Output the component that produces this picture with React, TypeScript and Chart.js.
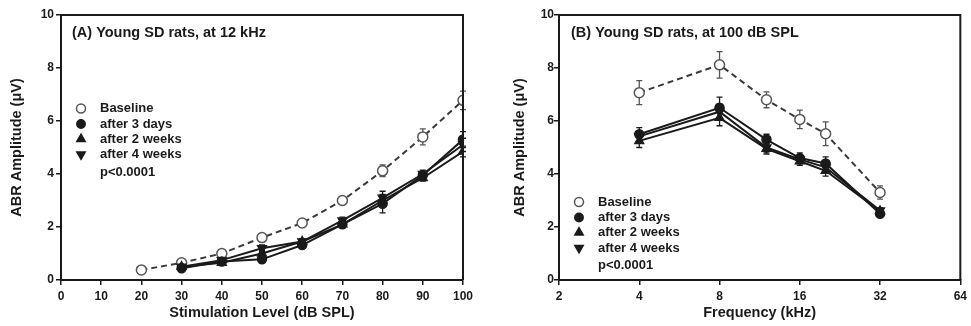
import React, { useEffect, useRef } from "react";
import { Chart, registerables } from "chart.js";
Chart.register(...registerables);

// ---------- Panel A data ----------
const levelsBaseline = [20, 30, 40, 50, 60, 70, 80, 90, 100];
const levelsTreated = [30, 40, 50, 60, 70, 80, 90, 100];
const levelBaseline = [0.38, 0.65, 1.0, 1.6, 2.15, 3.0, 4.12, 5.4, 6.78];
const levelBaselineErr = [0.06, 0.08, 0.1, 0.12, 0.12, 0.15, 0.22, 0.3, 0.35];
const level3Days = [0.44, 0.7, 0.78, 1.32, 2.1, 2.88, 3.95, 5.3];
const level3DaysErr = [0.06, 0.08, 0.1, 0.1, 0.12, 0.35, 0.15, 0.3];
const level2Weeks = [0.5, 0.65, 1.0, 1.45, 2.1, 3.0, 3.85, 4.85];
const level2WeeksErr = [0.06, 0.08, 0.12, 0.1, 0.12, 0.2, 0.12, 0.2];
const level4Weeks = [0.5, 0.75, 1.2, 1.45, 2.25, 3.1, 4.0, 5.1];
const level4WeeksErr = [0.06, 0.08, 0.12, 0.1, 0.12, 0.25, 0.15, 0.25];
const levelTicks = [0, 10, 20, 30, 40, 50, 60, 70, 80, 90, 100];

// ---------- Panel B data ----------
const freqs = [4, 8, 12, 16, 20, 32];
const freqBaseline = [7.07, 8.12, 6.8, 6.06, 5.52, 3.3];
const freqBaselineErr = [0.45, 0.5, 0.3, 0.35, 0.45, 0.25];
const freq3Days = [5.5, 6.5, 5.3, 4.6, 4.4, 2.5];
const freq3DaysErr = [0.25, 0.4, 0.2, 0.2, 0.25, 0.1];
const freq2Weeks = [5.25, 6.12, 4.95, 4.48, 4.12, 2.6];
const freq2WeeksErr = [0.25, 0.3, 0.2, 0.15, 0.2, 0.1];
const freq4Weeks = [5.42, 6.35, 5.0, 4.55, 4.25, 2.62];
const freq4WeeksErr = [0.2, 0.3, 0.2, 0.15, 0.2, 0.1];
const freqTicks = [2, 4, 8, 16, 32, 64];

const yTicks = [0, 2, 4, 6, 8, 10];
const legendLabels = ["Baseline", "after 3 days", "after 2 weeks", "after 4 weeks"];
const pValue = "p<0.0001";

const FONT = "'Liberation Sans', Arial, sans-serif";
const INK = "#1a1a1a";
const GRAY = "#3a3a3a";

const zip = (xs: number[], ys: number[]) => xs.map((x, i) => ({ x, y: ys[i] }));

function makeDatasets(xb: number[], xt: number[], b: number[], be: number[], d3: number[], e3: number[], w2: number[], e2: number[], w4: number[], e4: number[]) {
  const common = { borderWidth: 2, pointBorderWidth: 1.5, tension: 0 };
  return [
    { ...common, label: legendLabels[3], data: zip(xt, w4), errors: e4, borderColor: INK, backgroundColor: INK, pointStyle: "triangle", pointRotation: 180, pointRadius: 5 },
    { ...common, label: legendLabels[2], data: zip(xt, w2), errors: e2, borderColor: INK, backgroundColor: INK, pointStyle: "triangle", pointRadius: 5 },
    { ...common, label: legendLabels[1], data: zip(xt, d3), errors: e3, borderColor: INK, backgroundColor: INK, pointStyle: "circle", pointRadius: 4.5 },
    { ...common, label: legendLabels[0], data: zip(xb, b), errors: be, borderColor: GRAY, backgroundColor: "#fff", borderDash: [6, 4], pointStyle: "circle", pointRadius: 5, pointBorderColor: "#555" },
  ];
}

function drawMarker(ctx: CanvasRenderingContext2D, kind: number, x: number, y: number) {
  ctx.save();
  ctx.lineWidth = 1.5;
  ctx.strokeStyle = kind === 0 ? "#555" : INK;
  ctx.fillStyle = kind === 0 ? "#fff" : INK;
  ctx.beginPath();
  if (kind === 0 || kind === 1) {
    ctx.arc(x, y, kind === 0 ? 4.5 : 4.2, 0, Math.PI * 2);
  } else {
    const r = 4.8;
    const s = kind === 2 ? 1 : -1;
    ctx.moveTo(x, y - s * r);
    ctx.lineTo(x + r * 0.87, y + s * r * 0.5);
    ctx.lineTo(x - r * 0.87, y + s * r * 0.5);
    ctx.closePath();
  }
  ctx.fill();
  ctx.stroke();
  ctx.restore();
}

const panelPlugin = {
  id: "panelDeco",
  beforeDatasetsDraw(chart: any) {
    const ctx = chart.ctx;
    const ys = chart.scales.y;
    ctx.save();
    chart.data.datasets.forEach((ds: any, i: number) => {
      const meta = chart.getDatasetMeta(i);
      ctx.strokeStyle = i === 3 ? "#555" : INK;
      ctx.lineWidth = 1.3;
      meta.data.forEach((el: any, j: number) => {
        const v = ds.data[j].y;
        const e = ds.errors[j];
        const t = ys.getPixelForValue(v + e);
        const b = ys.getPixelForValue(v - e);
        ctx.beginPath();
        ctx.moveTo(el.x, t);
        ctx.lineTo(el.x, b);
        ctx.moveTo(el.x - 3, t);
        ctx.lineTo(el.x + 3, t);
        ctx.moveTo(el.x - 3, b);
        ctx.lineTo(el.x + 3, b);
        ctx.stroke();
      });
    });
    ctx.restore();
  },
  afterDraw(chart: any) {
    const ctx = chart.ctx;
    const a = chart.chartArea;
    const o = chart.options.plugins.panelDeco;
    ctx.save();
    ctx.strokeStyle = INK;
    ctx.lineWidth = 2;
    ctx.beginPath();
    ctx.moveTo(a.left, a.top);
    ctx.lineTo(a.right, a.top);
    ctx.lineTo(a.right, a.bottom);
    ctx.stroke();
    ctx.fillStyle = INK;
    ctx.textBaseline = "middle";
    ctx.font = `bold 14.5px ${FONT}`;
    ctx.fillText(o.title, a.left + o.titleDx, a.top + 18);
    ctx.font = `bold 13px ${FONT}`;
    const rows = [0, 15.5, 30.5, 46, 63.5];
    legendLabels.forEach((lab, k) => {
      const y = a.top + o.legendDy + rows[k];
      drawMarker(ctx, k, a.left + 20, y);
      ctx.fillStyle = INK;
      ctx.fillText(lab, a.left + 39, y);
    });
    ctx.fillText(pValue, a.left + 39, a.top + o.legendDy + rows[4]);
    ctx.restore();
  },
};

function Panel(props: any) {
  const ref = useRef<HTMLCanvasElement>(null);
  useEffect(() => {
    const tickFont = { family: FONT, size: 12, weight: "bold" as const };
    const titleFont = { family: FONT, size: 14.5, weight: "bold" as const };
    const chart = new Chart(ref.current as HTMLCanvasElement, {
      type: "line",
      data: { datasets: props.datasets as any },
      plugins: [panelPlugin as any],
      options: {
        animation: false,
        responsive: false,
        layout: { padding: { top: 15, right: props.rightPad, left: 0, bottom: 0 } },
        plugins: {
          legend: { display: false },
          tooltip: { enabled: false },
          panelDeco: { title: props.title, titleDx: props.titleDx, legendDy: props.legendDy },
        } as any,
        scales: {
          x: {
            type: props.xType,
            min: props.xMin,
            max: props.xMax,
            afterBuildTicks: (s: any) => { s.ticks = props.xTicks.map((v: number) => ({ value: v })); },
            afterFit: (s: any) => { s.height = 46; },
            ticks: { color: INK, font: tickFont, padding: 4, maxRotation: 0, autoSkip: false, callback: (v: any) => String(v) },
            grid: { drawOnChartArea: false, drawTicks: true, tickLength: 5, color: INK, lineWidth: 1.5 },
            border: { display: true, color: INK, width: 2 },
            title: { display: true, text: props.xTitle, color: INK, font: titleFont, padding: { top: 0, bottom: 4.3 } },
          },
          y: {
            type: "linear",
            min: 0,
            max: 10,
            afterBuildTicks: (s: any) => { s.ticks = yTicks.map((v) => ({ value: v })); },
            afterFit: (s: any) => { s.width = props.leftW; },
            ticks: { color: INK, font: tickFont, padding: props.yTickPad, callback: (v: any) => String(v) },
            grid: { drawOnChartArea: false, drawTicks: true, tickLength: 5, color: INK, lineWidth: 1.5 },
            border: { display: true, color: INK, width: 2 },
            title: { display: true, text: "ABR Amplitude (\u03BCV)", color: INK, font: titleFont, padding: { top: props.yTitlePad, bottom: 0 } },
          },
        } as any,
      },
    });
    return () => chart.destroy();
  }, []);
  return <canvas ref={ref} width={props.w} height={326} style={{ display: "block", width: props.w, height: 326 }} />;
}

export default function App() {
  const dsA = makeDatasets(levelsBaseline, levelsTreated, levelBaseline, levelBaselineErr, level3Days, level3DaysErr, level2Weeks, level2WeeksErr, level4Weeks, level4WeeksErr);
  const dsB = makeDatasets(freqs, freqs, freqBaseline, freqBaselineErr, freq3Days, freq3DaysErr, freq2Weeks, freq2WeeksErr, freq4Weeks, freq4WeeksErr);
  return (
    <div style={{ position: "fixed", left: 0, top: 0, width: 971, height: 326, display: "flex", background: "#fff" }}>
      <Panel w={485} datasets={dsA} xType="linear" xMin={0} xMax={100} xTicks={levelTicks} xTitle="Stimulation Level (dB SPL)"
        leftW={61} rightPad={22} yTitlePad={8.3} yTickPad={2} title="(A) Young SD rats, at 12 kHz" titleDx={11} legendDy={93.5} />
      <Panel w={486} datasets={dsB} xType="logarithmic" xMin={2} xMax={64} xTicks={freqTicks} xTitle="Frequency (kHz)"
        leftW={74} rightPad={9} yTitlePad={26.3} yTickPad={0} title="(B) Young SD rats, at 100 dB SPL" titleDx={12} legendDy={187} />
    </div>
  );
}
